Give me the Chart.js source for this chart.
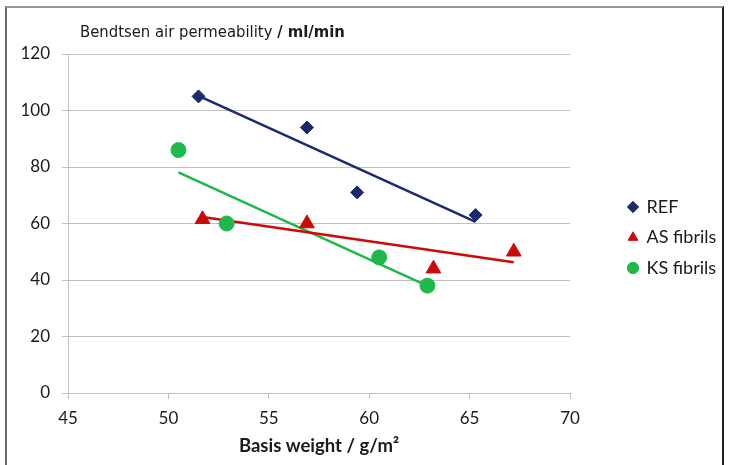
<!DOCTYPE html>
<html>
<head>
<meta charset="utf-8">
<script src="https://cdn.jsdelivr.net/npm/chart.js@4/dist/chart.umd.min.js"></script>
<style>
  html, body { margin: 0; padding: 0; background: #fff; }
  #wrap { position: relative; width: 729px; height: 465px; overflow: hidden; }
  #frame { position: absolute; left: 5px; top: 6px; width: 715px; height: 480px;
           border-left: 2px solid #6d6d6d; border-top: 2px solid #9a9a9a; border-right: 2px solid #1e1e1e;
           pointer-events: none; }
</style>
</head>
<body>
<div id="wrap">
  <canvas id="myChart" width="729" height="465"></canvas>
  <div id="frame"></div>
</div>
<script>
// values
const seriesNames = ["REF", "AS fibrils", "KS fibrils"];
const refX = [51.5, 56.9, 59.4, 65.3];
const refY = [105, 94, 71, 63];
const asX = [51.7, 56.9, 63.2, 67.2];
const asY = [61.5, 60, 44, 50];
const ksX = [50.5, 52.9, 60.5, 62.9];
const ksY = [86, 60, 48, 38];

// trend line end points, also
const refTrendX = [51.5, 65.3];
const refTrendY = [105.2, 60.6];
const asTrendX = [51.7, 67.2];
const asTrendY = [62.3, 46.3];
const ksTrendX = [50.5, 62.9];
const ksTrendY = [78.1, 37.9];

const xMin = 45, xMax = 70, xStep = 5;
const yMin = 0, yMax = 120, yStep = 20;

const titleMain = "Bendtsen air permeability";
const titleUnit = "/ ml/min";
const xTitle = "Basis weight / g/m\u00B2";

const colors = ["#1b2a6e", "#cc0a0a", "#20b84a"];

function toPoints(xs, ys) {
  return xs.map(function(x, i) { return { x: x, y: ys[i] }; });
}

Chart.defaults.font.family = "Lato, sans-serif";
Chart.defaults.color = "#1a1a1a";

// legend width, so the plot area ends where it does in the picture
const legendFont = 18, legendPad = 12.5, legendBox = 9;
const mctx = document.createElement("canvas").getContext("2d");
mctx.font = legendFont + "px Lato, sans-serif";
const legendTextW = Math.max.apply(null, seriesNames.map(function(s) { return mctx.measureText(s).width; }));
const legendW = legendPad + legendBox + legendFont / 2 + legendTextW + 10;

const legendMove = {
  id: "legendMove",
  afterLayout(chart) {
    const lg = chart.legend;
    const dx = 616 - lg.left;
    lg.left += dx; lg.right += dx;
    lg.top -= 22; lg.bottom -= 22;
  }
};

const titleText = {
  id: "titleText",
  afterDraw(chart) {
    const ctx = chart.ctx;
    ctx.save();
    ctx.fillStyle = "#1a1a1a";
    ctx.textBaseline = "alphabetic";
    ctx.font = '16.5px "DejaVu Sans Condensed"';
    ctx.fillText(titleMain, 80, 37);
    const w = ctx.measureText(titleMain + " ").width;
    ctx.font = 'bold 16.5px "DejaVu Sans Condensed"';
    ctx.fillText(titleUnit, 80 + w, 37);
    ctx.restore();
  }
};

const ctx = document.getElementById("myChart");

new Chart(ctx, {
  type: "scatter",
  data: {
    datasets: [
      {
        label: seriesNames[0],
        data: toPoints(refX, refY),
        pointStyle: "rectRot",
        pointRadius: 6.5,
        borderWidth: 1,
        backgroundColor: colors[0],
        borderColor: colors[0],
        order: 0
      },
      {
        label: seriesNames[1],
        data: toPoints(asX, asY),
        pointStyle: "triangle",
        pointRadius: 8.5,
        borderWidth: 1,
        backgroundColor: colors[1],
        borderColor: colors[1],
        order: 0
      },
      {
        label: seriesNames[2],
        data: toPoints(ksX, ksY),
        pointStyle: "circle",
        pointRadius: 7.5,
        borderWidth: 1,
        backgroundColor: colors[2],
        borderColor: colors[2],
        order: 0
      },
      {
        label: "REF trend",
        data: toPoints(refTrendX, refTrendY),
        showLine: true,
        pointRadius: 0,
        borderWidth: 2.5,
        borderColor: colors[0],
        order: 1
      },
      {
        label: "AS trend",
        data: toPoints(asTrendX, asTrendY),
        showLine: true,
        pointRadius: 0,
        borderWidth: 2.5,
        borderColor: colors[1],
        order: 1
      },
      {
        label: "KS trend",
        data: toPoints(ksTrendX, ksTrendY),
        showLine: true,
        pointRadius: 0,
        borderWidth: 2.5,
        borderColor: colors[2],
        order: 1
      }
    ]
  },
  options: {
    responsive: false,
    animation: false,
    layout: {
      padding: { left: 0, top: 54, right: 159 - legendW, bottom: 0 }
    },
    plugins: {
      title: { display: false },
      tooltip: { enabled: false },
      legend: {
        position: "right",
        align: "center",
        labels: {
          usePointStyle: true,
          boxWidth: legendBox,
          boxHeight: 8,
          padding: legendPad,
          color: "#1a1a1a",
          font: { size: legendFont },
          filter: function(item) { return item.datasetIndex < 3; }
        }
      }
    },
    scales: {
      x: {
        type: "linear",
        min: xMin,
        max: xMax,
        afterFit: function(scale) { scale.height = 72; },
        ticks: { stepSize: xStep, padding: 9, font: { size: 17 }, color: "#1a1a1a" },
        grid: { drawOnChartArea: false, drawTicks: true, tickLength: 6, color: "#c0c0c0" },
        border: { display: true, color: "#c0c0c0" },
        title: {
          display: true,
          text: xTitle,
          color: "#1a1a1a",
          font: { size: 18.5, weight: "bold" },
          padding: { top: 0, bottom: 8 }
        }
      },
      y: {
        min: yMin,
        max: yMax,
        afterFit: function(scale) { scale.width = 68; },
        ticks: { stepSize: yStep, padding: 12, font: { size: 17 }, color: "#1a1a1a" },
        grid: { drawTicks: true, tickLength: 6, color: "#c0c0c0" },
        border: { display: true, color: "#c0c0c0" }
      }
    }
  },
  plugins: [legendMove, titleText]
});
</script>
</body>
</html>
